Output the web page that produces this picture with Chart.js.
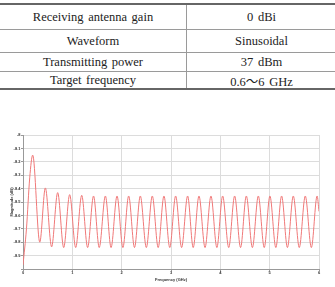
<!DOCTYPE html>
<html><head><meta charset="utf-8">
<script src="https://cdn.jsdelivr.net/npm/chart.js@4/dist/chart.umd.min.js"></script>
<style>
html,body{margin:0;padding:0;background:#fff;width:335px;height:287px;overflow:hidden;position:relative;}
#tbl{position:absolute;left:0;top:0;width:335px;height:90px;font-family:"Liberation Serif","Times New Roman","Noto Sans CJK KR",serif;font-size:12.5px;color:#222;word-spacing:1.5px;}
.row{position:absolute;left:0;width:335px;border-top:1px solid #9a9a9a;box-sizing:border-box;}
.cell{position:absolute;top:0;bottom:0;display:flex;align-items:center;justify-content:center;white-space:nowrap;}
.c1{left:0;width:186px;}
.c2{left:186px;width:149px;border-left:1px solid #9a9a9a;}
#chartBox{position:absolute;left:0;top:120px;width:335px;height:167px;}
</style>
</head><body>
<div id="tbl"></div>
<div id="chartBox"><canvas id="c"></canvas></div>
<script>
// Table content
const tableParams = ["Receiving antenna gain", "Waveform", "Transmitting power", "Target frequency"];
const tableValues = ["0 dBi", "Sinusoidal", "37 dBm", "0.6～6 GHz"];

// Chart data
const freqGHz = [0.00, 0.07, 0.136, 0.197, 0.34, 0.453, 0.58, 0.703, 0.825, 0.946, 1.068, 1.19, 1.31, 1.43, 1.545, 1.67, 1.785, 1.906, 2.025, 2.142, 2.26, 2.378, 2.50, 2.621, 2.74, 2.857, 2.975, 3.094, 3.215, 3.337, 3.45, 3.567, 3.69, 3.81, 3.93, 4.047, 4.17, 4.29, 4.41, 4.527, 4.65, 4.77, 4.89, 5.005, 5.125, 5.242, 5.36, 5.479, 5.60, 5.722, 5.845, 5.962, 6.00];
const magnitudeDb = [-8.97, -8.70, -8.32, -8.15, -8.80, -8.395, -8.835, -8.43, -8.84, -8.445, -8.84, -8.45, -8.84, -8.455, -8.84, -8.455, -8.84, -8.455, -8.84, -8.455, -8.84, -8.455, -8.84, -8.455, -8.84, -8.455, -8.84, -8.455, -8.84, -8.455, -8.84, -8.455, -8.84, -8.455, -8.84, -8.455, -8.84, -8.455, -8.84, -8.455, -8.84, -8.455, -8.84, -8.455, -8.84, -8.455, -8.84, -8.455, -8.84, -8.455, -8.84, -8.455, -8.57];
const xTickValues = [0, 1, 2, 3, 4, 5, 6];
const yTickValues = [-9, -8.9, -8.8, -8.7, -8.6, -8.5, -8.4, -8.3, -8.2, -8.1, -8];
const xTitle = "Frequency (GHz)";
const yTitle = "Magnitude (dB)";

// Build table
const rowTops = [3, 29, 52, 71];
const rowHeights = [26, 23, 19, 18];
const tbl = document.getElementById('tbl');
tableParams.forEach((p, i) => {
  const r = document.createElement('div');
  r.className = 'row';
  r.style.top = rowTops[i] + 'px';
  r.style.height = rowHeights[i] + 'px';
  if (i === 0) r.style.borderTop = '2px solid #666';
  const a = document.createElement('div'); a.className = 'cell c1'; a.textContent = p;
  const b = document.createElement('div'); b.className = 'cell c2'; b.textContent = tableValues[i];
  r.appendChild(a); r.appendChild(b);
  tbl.appendChild(r);
});
const bottomLine = document.createElement('div');
bottomLine.style.cssText = 'position:absolute;left:0;width:335px;top:88px;border-top:2px solid #666;';
tbl.appendChild(bottomLine);

const pts = freqGHz.map((f, i) => ({x: f, y: magnitudeDb[i]}));
const tickFont = {family: 'Liberation Sans', size: 4, lineHeight: 1, weight: 'bold'};

new Chart(document.getElementById('c'), {
  type: 'line',
  data: {datasets: [{
    data: pts,
    borderColor: '#f07878',
    borderWidth: 1,
    pointRadius: 0,
    cubicInterpolationMode: 'monotone',
    fill: false
  }]},
  options: {
    responsive: true,
    maintainAspectRatio: false,
    animation: false,
    events: [],
    layout: {padding: {top: 15, right: 16, bottom: 0, left: 0}},
    plugins: {legend: {display: false}, tooltip: {enabled: false}},
    scales: {
      x: {
        type: 'linear', min: 0, max: 6,
        afterBuildTicks: s => { s.ticks = xTickValues.map(v => ({value: v})); },
        afterFit: s => { s.height = 18; },
        ticks: {font: tickFont, color: '#333', padding: 0, maxRotation: 0,
          callback: v => String(v)},
        grid: {color: '#dcdcdc', lineWidth: 1, tickLength: 2, tickColor: '#999'},
        border: {color: '#999', width: 1},
        title: {display: true, text: xTitle, font: tickFont, color: '#333', padding: {top: 0, bottom: 5.5}}
      },
      y: {
        type: 'linear', min: -9, max: -8,
        afterBuildTicks: s => { s.ticks = yTickValues.map(v => ({value: v})); },
        afterFit: s => { s.width = 23; },
        ticks: {font: tickFont, color: '#333', padding: 0.5,
          callback: v => (Math.abs(v + 9) < 1e-6 ? '' : String(Math.round(v * 10) / 10))},
        grid: {color: '#dcdcdc', lineWidth: 1, tickLength: 2, tickColor: '#999'},
        border: {color: '#999', width: 1},
        title: {display: true, text: yTitle, font: tickFont, color: '#333', padding: {top: 9.5, bottom: 0}}
      }
    }
  }
});
</script>
</body></html>
